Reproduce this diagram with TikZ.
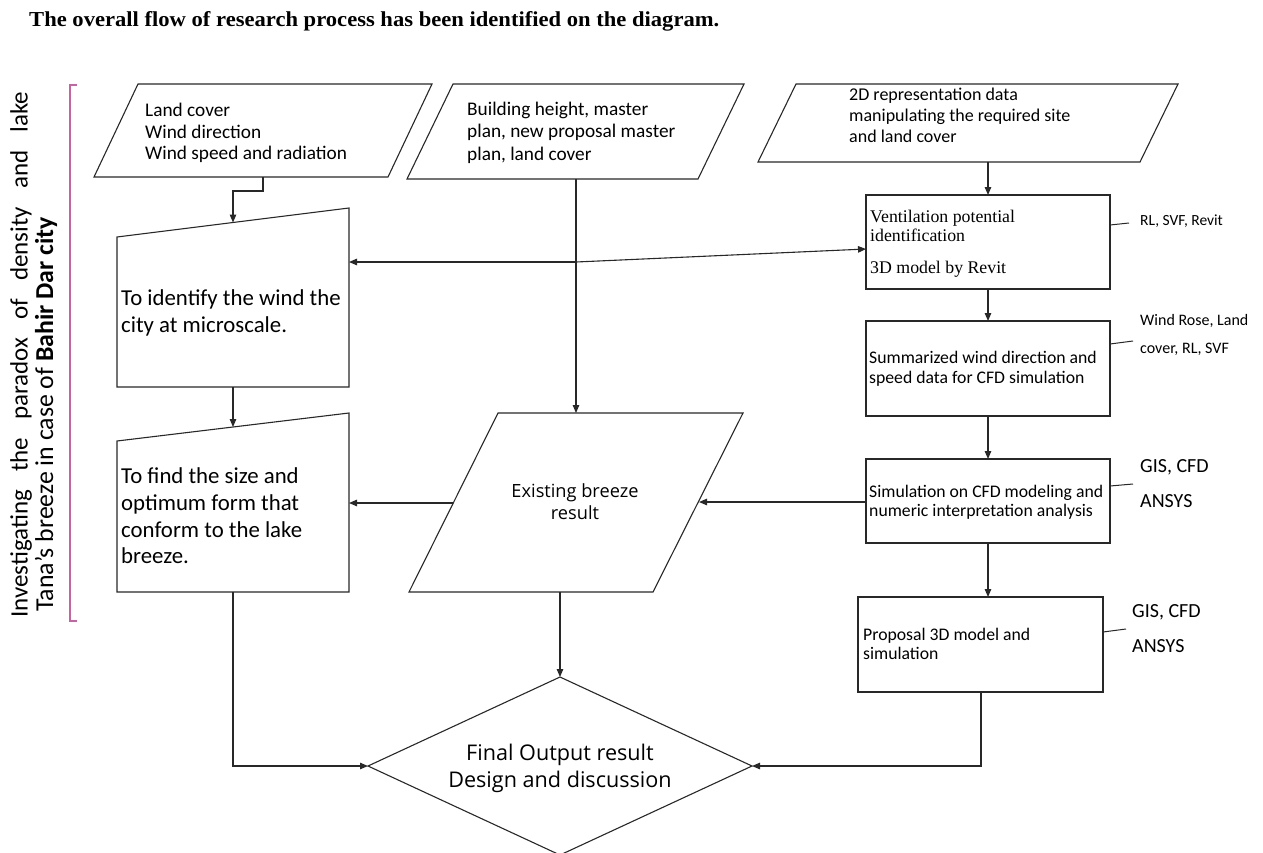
\documentclass[tikz,border=0pt]{standalone}
\usepackage{fontspec}
\usepackage{graphicx}
\setmainfont{Liberation Serif}
\newfontfamily\calfont{Carlito}
\newfontfamily\segfont{Open Sans}
\usetikzlibrary{arrows.meta}
\definecolor{ln}{RGB}{40,40,40}
\definecolor{brk}{RGB}{196,100,160}
\tikzset{
  shp/.style={draw=ln, line width=1.1pt, fill=white, line join=miter},
  arr/.style={draw=ln, line width=1.1pt, -{Triangle[length=8pt,width=6.5pt]}},
  lead/.style={draw=ln, line width=1pt},
  txt/.style={inner sep=0pt, anchor=base west, text=black},
  cal19/.style={txt, font=\calfont\fontsize{19.3pt}{21pt}\selectfont},
  cal18/.style={txt, font=\calfont\fontsize{18pt}{21pt}\selectfont},
  cal22/.style={txt, font=\calfont\fontsize{22.8pt}{27pt}\selectfont},
  cal17/.style={txt, font=\calfont\fontsize{17.7pt}{20pt}\selectfont},
  tim17/.style={txt, font=\rmfamily\fontsize{17.8pt}{20pt}\selectfont},
  ann15/.style={txt, font=\calfont\fontsize{15.5pt}{18pt}\selectfont},
  ann16/.style={txt, font=\calfont\fontsize{16pt}{18pt}\selectfont},
  ann20/.style={txt, font=\calfont\fontsize{20pt}{22pt}\selectfont},
  seg17/.style={inner sep=0pt, anchor=base, font=\segfont\fontsize{18.2pt}{21pt}\selectfont},
  seg20/.style={inner sep=0pt, anchor=base, font=\segfont\fontsize{21.6pt}{24pt}\selectfont},
  side/.style={rotate=90, inner sep=0pt, anchor=base west},
}
\begin{document}
\begin{tikzpicture}[x=1pt,y=-1pt]
\useasboundingbox (0,0) rectangle (1263,852);
\fill[white] (0,0) rectangle (1263,852);

% title
\node[inner sep=0pt, anchor=base west] (title) at (29,26.5)
  {\resizebox{690pt}{15pt}{\bfseries The overall flow of research process has been identified on the diagram.}};

% side text and bracket
\node[side] (side1) at (27.5,618)
  {\calfont\fontsize{25pt}{25pt}\selectfont\makebox[526pt][s]{Investigating the paradox of density and lake}};
\node[side] (side2) at (53,612)
  {\calfont\fontsize{25.8pt}{25pt}\selectfont Tana’s breeze in case of \textbf{Bahir Dar city}};
\draw[brk, line width=1.2pt] (77,85) -- (70,85) -- (70,621) -- (77,621);

% ---- shapes ----
% inputs
\draw[shp] (138,84) -- (432,84) -- (388,177) -- (94,177) -- cycle;
\draw[shp] (453,84) -- (744,84) -- (698,179) -- (407,179) -- cycle;
\draw[shp] (796,84) -- (1178,84) -- (1140,162) -- (758,162) -- cycle;
% left manual-input boxes
\draw[shp] (117,237) -- (349,208) -- (349,387) -- (117,387) -- cycle;
\draw[shp] (117,441) -- (349,413) -- (349,592) -- (117,592) -- cycle;
% existing breeze
\draw[shp] (498,413) -- (743,413) -- (653,592) -- (409,592) -- cycle;
% right column
\draw[shp] (866,195) rectangle (1110,289);
\draw[shp] (866,321) rectangle (1110,416);
\draw[shp] (866,459) rectangle (1110,543);
\draw[shp] (858,597) rectangle (1103,692);
% diamond
\draw[shp] (560,677) -- (752,766) -- (560,855) -- (368,766) -- cycle;

% ---- connection points ----
\coordinate (lcB) at (263,177);
\coordinate (idT) at (233,222.5);
\coordinate (idB) at (233,387);
\coordinate (idR) at (349,262);
\coordinate (fdT) at (233,427);
\coordinate (fdB) at (233,592);
\coordinate (fdR) at (349,503);
\coordinate (bhB) at (576,179);
\coordinate (junc) at (576,262);
\coordinate (ebT) at (576,413);
\coordinate (ebL) at (453,503);
\coordinate (ebR) at (699,502);
\coordinate (ebB) at (560,592);
\coordinate (tdB) at (988,162);
\coordinate (veT) at (988,195);
\coordinate (veL) at (866,249);
\coordinate (veB) at (988,289);
\coordinate (suT) at (988,321);
\coordinate (suB) at (988,416);
\coordinate (siT) at (988,459);
\coordinate (siL) at (866,502);
\coordinate (siB) at (988,543);
\coordinate (prT) at (988,597);
\coordinate (prB) at (981,692);
\coordinate (dT) at (560,677);
\coordinate (dL) at (368,766);
\coordinate (dR) at (752,766);

% ---- connectors ----
\draw[arr] (lcB) -- ++(0,14) -| (idT);
\draw[arr] (idB) -- (fdT);
\draw[lead, line width=1.1pt] (bhB) -- (junc);
\draw[arr] (junc) -- (ebT);
\draw[arr] (junc) -- (idR);
\draw[arr] (junc) -- (veL);
\draw[arr] (tdB) -- (veT);
\draw[arr] (veB) -- (suT);
\draw[arr] (suB) -- (siT);
\draw[arr] (siB) -- (prT);
\draw[arr] (siL) -- (ebR);
\draw[arr] (ebL) -- (fdR);
\draw[arr] (fdB) |- (dL);
\draw[arr] (ebB) -- (dT);
\draw[arr] (prB) |- (dR);

% ---- texts ----
\node[cal19] (lc1) at (145,116) {Land cover};
\node[cal19] (lc2) at (145,138) {Wind direction};
\node[cal19] (lc3) at (145,159) {Wind speed and radiation};

\node[cal19] (bh1) at (467,115) {Building height, master};
\node[cal19] (bh2) at (467,137) {plan, new proposal master};
\node[cal19] (bh3) at (467,160) {plan, land cover};

\node[cal18] (td1) at (849,100) {2D representation data};
\node[cal18] (td2) at (849,121) {manipulating the required site};
\node[cal18] (td3) at (849,142) {and land cover};

\node[cal22] (id1) at (121,305) {To identify the wind the};
\node[cal22] (id2) at (121,332) {city at microscale.};

\node[cal22] (fd1) at (121,483) {To find the size and};
\node[cal22] (fd2) at (121,510) {optimum form that};
\node[cal22] (fd3) at (121,537) {conform to the lake};
\node[cal22] (fd4) at (121,563) {breeze.};

\node[seg17] (eb1) at (575,497) {Existing breeze};
\node[seg17] (eb2) at (575,519) {result};

\node[seg20] (fo1) at (560,760) {Final Output result};
\node[seg20] (fo2) at (560,787) {Design and discussion};

\node[tim17] (ve1) at (870,222) {Ventilation potential};
\node[tim17] (ve2) at (870,241) {identification};
\node[tim17] (ve3) at (870,273) {3D model by Revit};

\node[cal17] (su1) at (869,363) {Summarized wind direction and};
\node[cal17] (su2) at (869,383) {speed data for CFD simulation};

\node[cal17] (si1) at (869,497) {Simulation on CFD modeling and};
\node[cal17] (si2) at (869,516) {numeric interpretation analysis};

\node[cal17] (pr1) at (863,640) {Proposal 3D model and};
\node[cal17] (pr2) at (863,659) {simulation};

% annotations
\draw[lead] (1110,225) -- (1129,223);
\node[ann15] (an1) at (1140,225) {RL, SVF, Revit};
\draw[lead] (1110,344) -- (1133,341);
\node[ann16] (an2) at (1140,325) {Wind Rose, Land};
\node[ann16] (an3) at (1140,353) {cover, RL, SVF};
\draw[lead] (1110,486) -- (1133,484);
\node[ann20] (an4) at (1140,472) {GIS, CFD};
\node[ann20] (an5) at (1140,507) {ANSYS};
\draw[lead] (1103,632) -- (1126,629);
\node[ann20] (an6) at (1132,617) {GIS, CFD};
\node[ann20] (an7) at (1132,652) {ANSYS};
\end{tikzpicture}
\end{document}
